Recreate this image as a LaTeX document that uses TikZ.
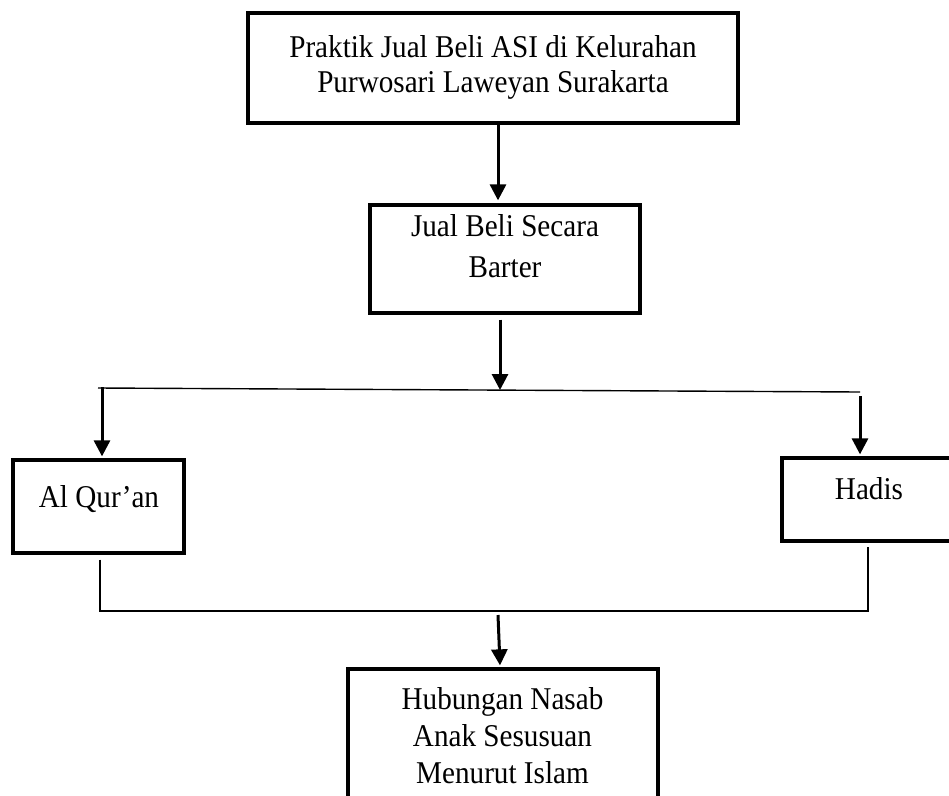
\documentclass[tikz,border=0pt]{standalone}
\usepackage{fontspec}
\setmainfont{Liberation Serif}[FakeStretch=0.92]
\usetikzlibrary{arrows.meta}
\begin{document}
\begin{tikzpicture}[x=1pt,y=-1pt,
  box/.style={draw,line width=3.3pt,inner sep=0pt,minimum width=#1},
  txt/.style={inner sep=0pt,anchor=north,align=center},
  arr/.style={line width=3pt,-{Triangle[width=16pt,length=16pt]}},
  thin/.style={line width=1.4pt}]
\useasboundingbox (0,0) rectangle (949,795);
\clip (0,0) rectangle (949,795);
% boxes
\node[box=490pt,minimum height=110pt] (top) at (493,68) {};
\node[box=270pt,minimum height=108pt] (mid) at (505,259) {};
\node[box=171pt,minimum height=93pt] (alq) at (98.5,506.5) {};
\node[box=174pt,minimum height=83pt] (had) at (869,499.5) {};
\node[box=310pt,minimum height=160pt] (hub) at (503,749) {};
% texts
\node[txt,font=\fontsize{31.7}{35}\selectfont] (ttop) at (493,35) {Praktik Jual Beli ASI di Kelurahan\\Purwosari Laweyan Surakarta};
\node[txt,font=\fontsize{31.7}{41}\selectfont] (tmid) at (505,214) {Jual Beli Secara\\Barter};
\node[txt,font=\fontsize{31.7}{35}\selectfont] (talq) at (99,485) {Al Qur’an};
\node[txt,font=\fontsize{31.7}{35}\selectfont] (thad) at (869,477) {Hadis};
\node[txt,font=\fontsize{31.7}{37}\selectfont] (thub) at (502.5,687) {Hubungan Nasab\\Anak Sesusuan\\Menurut Islam};
% junction points
\coordinate (hl) at (98,388);
\coordinate (hr) at (860,392);
\coordinate (hm) at (500,390);
\coordinate (bl) at (100,611);
\coordinate (br) at (868,611);
\coordinate (bm) at (498,615);
% connectors
\draw[arr] ([xshift=5pt]top.south) -- ([xshift=-7pt,yshift=3pt]mid.north);
\draw[arr] ([xshift=-5pt,yshift=-5pt]mid.south) -- (hm);
\draw[thin] (hl) -- (hr);
\draw[arr] ([xshift=4pt,yshift=1pt]hl) -- ([xshift=3.5pt,yshift=2pt]alq.north);
\draw[arr] ([yshift=-4pt]hr) -- ([xshift=-9pt,yshift=2pt]had.north);
\draw[thin] ([xshift=1.5pt,yshift=-5pt]alq.south) -- (bl) -- (br) -- ([xshift=-1pt,yshift=-4pt]had.south);
\draw[arr] (bm) -- ([xshift=-3pt,yshift=2pt]hub.north);
\end{tikzpicture}
\end{document}
